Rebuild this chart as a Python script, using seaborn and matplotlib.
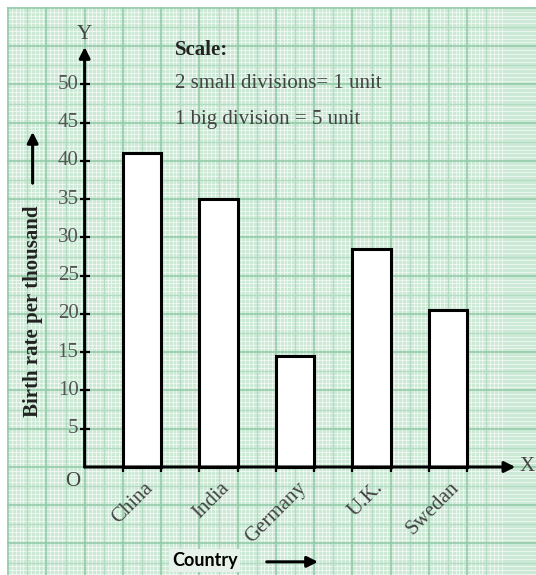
import numpy as np
import matplotlib.pyplot as plt
import seaborn as sns

# data
countries = ["China", "India", "Germany", "U.K.", "Swedan"]
birth_rates = [41, 35, 14.5, 28.5, 20.5]
y_ticks = [5, 10, 15, 20, 25, 30, 35, 40, 45, 50]

serif = "Liberation Serif"

fig = plt.figure(figsize=(5.36, 5.75), dpi=100)
ax = fig.add_axes([7 / 536, 0, 529 / 536, 568 / 575])

sns.barplot(x=countries, y=birth_rates, order=countries, width=0.5,
            color="white", saturation=1, edgecolor="black", linewidth=2.2,
            errorbar=None, ax=ax, zorder=3)

# y axis sits one big division left of the first bar
x0 = -0.75
ax.set_xlim(-1.765, 5.15)
ax.set_ylim(-14.12, 60.13)

# graph paper: small, medium and big divisions
ax.set_facecolor("#cbe9d5")
for k in range(-30, 110):
    v = x0 + 0.05 * k
    if k % 10 == 0:
        ax.axvline(v, color="#90c9a7", lw=1.1, zorder=0.6)
    elif k % 5 == 0:
        ax.axvline(v, color="#b3dbc2", lw=0.8, zorder=0.55)
    else:
        ax.axvline(v, color="white", lw=0.7, alpha=0.6, zorder=0.5)
for k in range(-30, 122):
    v = 0.5 * k
    if k % 10 == 0:
        ax.axhline(v, color="#90c9a7", lw=1.1, zorder=0.6)
    elif k % 5 == 0:
        ax.axhline(v, color="#b3dbc2", lw=0.8, zorder=0.55)
    else:
        ax.axhline(v, color="white", lw=0.7, alpha=0.6, zorder=0.5)

ax.set_xticks([])
ax.set_yticks([])
ax.set_xlabel("")
ax.set_ylabel("")
sns.despine(ax=ax, left=True, bottom=True)

# axes with arrow heads
arrow = dict(arrowstyle="-|>", lw=2.2, color="black", mutation_scale=16,
             shrinkA=0, shrinkB=0)
ax.annotate("", xy=(x0, 54.9), xytext=(x0, 0), arrowprops=arrow, zorder=5)
ax.annotate("", xy=(4.88, 0), xytext=(x0, 0), arrowprops=arrow, zorder=5)

# y ticks and labels
ax.hlines(y_ticks, x0 - 0.065, x0 + 0.065, color="black", lw=1.6, zorder=5)
for t in y_ticks:
    ax.text(x0 - 0.08, t, str(t), ha="right", va="center", fontsize=15,
            family=serif, color="#555555")

# small marks under the bar edges
for p in ax.patches:
    ax.vlines([p.get_x(), p.get_x() + p.get_width()], -0.6, 0,
              color="black", lw=1.6, zorder=4)

# country names
for i, name in enumerate(countries):
    ax.text(i + 0.02, -1.5, name, rotation=45, rotation_mode="anchor",
            ha="right", va="top", fontsize=15, family=serif, color="#444444")

ax.text(x0, 56.6, "Y", ha="center", va="center", fontsize=15, family=serif,
        color="#444444")
ax.text(5.03, 0, "X", ha="center", va="center", fontsize=15, family=serif,
        color="#444444")
ax.text(-0.90, -1.96, "O", ha="center", va="center", fontsize=15,
        family=serif, color="#444444")

# scale note
ax.text(0.43, 54.5, "Scale:", ha="left", va="center", fontsize=15,
        family=serif, fontweight="bold", color="#222222")
ax.text(0.43, 50.1, "2 small divisions= 1 unit", ha="left", va="center",
        fontsize=15, family=serif, color="#444444")
ax.text(0.43, 45.4, "1 big division = 5 unit", ha="left", va="center",
        fontsize=15, family=serif, color="#444444")

# axis titles
ax.text(-1.43, 20.3, "Birth rate per thousand", rotation=90, ha="center",
        va="center", fontsize=15, family=serif, fontweight="bold",
        color="#222222")
ax.annotate("", xy=(-1.43, 43.8), xytext=(-1.43, 37.1),
            arrowprops=dict(arrowstyle="-|>", lw=2.2, color="black",
                            mutation_scale=16, shrinkA=0, shrinkB=0))

ax.text(0.82, -12.2, "Country", ha="center", va="center", fontsize=13,
        family="Lato", fontweight="bold", color="black",
        bbox=dict(boxstyle="square,pad=0.15", fc="#e6f2ea", ec="none"))
ax.annotate("", xy=(2.30, -12.4), xytext=(1.63, -12.4),
            arrowprops=dict(arrowstyle="-|>", lw=2.2, color="black",
                            mutation_scale=16, shrinkA=0, shrinkB=0))

fig.savefig("out.png", dpi=100, facecolor="white")
